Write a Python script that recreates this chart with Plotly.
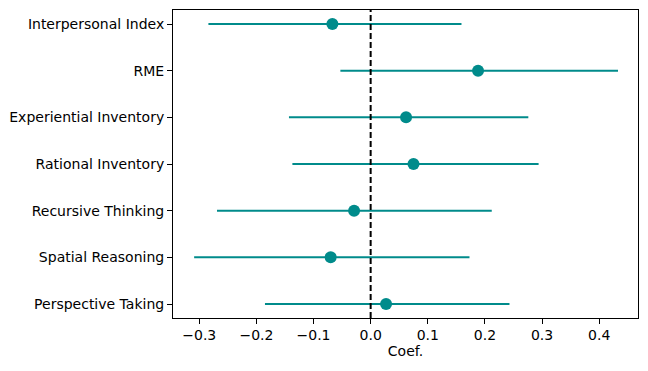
import plotly.graph_objects as go

# Оценки коэффициентов и доверительные интервалы (снизу вверх)
labels = ["Perspective Taking", "Spatial Reasoning", "Recursive Thinking",
          "Rational Inventory", "Experiential Inventory", "RME", "Interpersonal Index"]
coef = [0.027, -0.070, -0.029, 0.075, 0.062, 0.188, -0.067]
ci_low = [-0.185, -0.309, -0.269, -0.137, -0.143, -0.053, -0.284]
ci_high = [0.243, 0.173, 0.212, 0.294, 0.276, 0.433, 0.159]

TEAL = "#008b8b"
FONT = "DejaVu Sans"

err_plus = [h - c for h, c in zip(ci_high, coef)]
err_minus = [c - l for c, l in zip(coef, ci_low)]

fig = go.Figure()

fig.add_trace(go.Scatter(
    x=coef, y=labels,
    mode="markers",
    marker=dict(color=TEAL, size=12),
    error_x=dict(type="data", symmetric=False, array=err_plus, arrayminus=err_minus,
                 color=TEAL, thickness=2, width=0),
    showlegend=False,
))

# Нулевая линия
fig.add_vline(x=0, line_width=2, line_color="black", line_dash="6px,3px")

# страница добавляет отступ 8px у body — компенсируем размером
fig.update_layout(
    width=640, height=363,
    margin=dict(l=165, r=10, t=2, b=53),
    paper_bgcolor="white",
    plot_bgcolor="white",
    font=dict(family=FONT, size=14, color="black"),
    xaxis=dict(
        range=[-0.346, 0.468],
        tickvals=[-0.3, -0.2, -0.1, 0.0, 0.1, 0.2, 0.3, 0.4],
        ticktext=["\u22120.3", "\u22120.2", "\u22120.1", "0.0", "0.1", "0.2", "0.3", "0.4"],
        showgrid=False, zeroline=False,
        showline=True, linecolor="black", linewidth=1, mirror=True,
        ticks="outside", ticklen=5, tickcolor="black",
        ticklabelstandoff=-1,
        title=dict(text="Coef.", standoff=4, font=dict(size=14)),
    ),
    yaxis=dict(
        type="category",
        categoryorder="array", categoryarray=labels,
        range=[-0.3, 6.3],
        showgrid=False, zeroline=False,
        showline=True, linecolor="black", linewidth=1, mirror=True,
        ticks="outside", ticklen=5, tickcolor="black",
    ),
)

fig.write_html("out.html")
